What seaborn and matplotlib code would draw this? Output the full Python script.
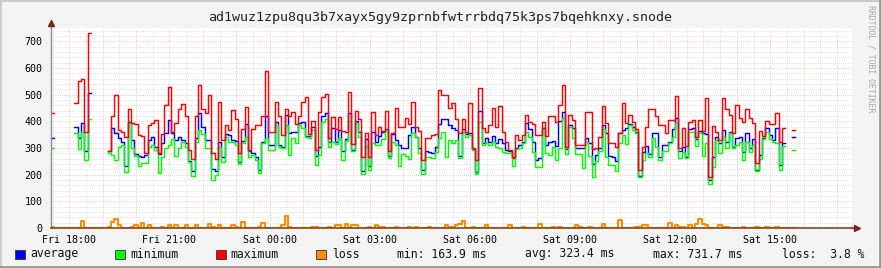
import numpy as np
import pandas as pd
import matplotlib
matplotlib.use("Agg")
import matplotlib.pyplot as plt
import seaborn as sns
from matplotlib.ticker import MultipleLocator, FuncFormatter
from matplotlib.patches import Rectangle
from matplotlib.lines import Line2D

nan = np.nan

TITLE = "ad1wuz1zpu8qu3b7xayx5gy9zprnbfwtrrbdq75k3ps7bqehknxy.snode"
START_HOUR = 17.45      # Fri 17:27 (hours since Fri 00:00)
STEP_HOURS = 0.1        # 6 minute steps
SPAN_HOURS = 24.0

maximum = [
    430, nan, nan, nan, nan, nan, nan, 467, 552, 558,
    361, 731, nan, nan, nan, nan, nan, 290, 421, 500,
    368, 360, 340, 445, 395, 390, 350, 345, 282, 386,
    395, 405, 282, 352, 461, 530, 360, 392, 445, 464,
    420, 292, 257, 420, 536, 445, 430, 500, 280, 257,
    471, 330, 386, 367, 442, 407, 280, 370, 452, 292,
    370, 386, 386, 420, 589, 360, 360, 471, 420, 349,
    445, 420, 436, 390, 420, 474, 490, 352, 402, 292,
    434, 490, 501, 336, 415, 370, 415, 365, 360, 511,
    315, 440, 407, 267, 355, 267, 436, 349, 377, 365,
    440, 289, 355, 449, 377, 377, 411, 390, 474, 380,
    365, 255, 336, 336, 349, 352, 517, 499, 499, 449,
    467, 407, 355, 407, 360, 467, 300, 255, 524, 374,
    361, 386, 449, 377, 457, 361, 324, 292, 265, 349,
    330, 349, 424, 399, 389, 349, 349, 399, 345, 420,
    420, 399, 461, 536, 305, 424, 405, 311, 311, 311,
    434, 434, 295, 300, 342, 457, 395, 317, 317, 305,
    357, 467, 392, 424, 399, 370, 217, 305, 380, 445,
    445, 420, 386, 386, 357, 405, 405, 495, 300, 376,
    307, 399, 405, 340, 405, 362, 486, 192, 382, 361,
    330, 486, 445, 424, 355, 461, 411, 399, 445, 411,
    392, 244, 365, 345, 402, 390, 390, 430, 324, 374,
    nan, nan, 367,
]

average = [
    336, nan, nan, nan, nan, nan, nan, 380, 336, 392,
    289, 505, nan, nan, nan, nan, nan, 288, 374, 355,
    336, 324, 232, 399, 330, 277, 270, 265, 272, 330,
    342, 305, 278, 320, 355, 405, 355, 330, 342, 330,
    317, 252, 215, 336, 430, 380, 330, 330, 220, 215,
    321, 265, 352, 349, 330, 326, 246, 326, 389, 288,
    282, 267, 217, 324, 420, 311, 311, 399, 311, 305,
    424, 357, 361, 361, 395, 396, 345, 345, 380, 270,
    305, 420, 432, 324, 374, 324, 367, 290, 332, 430,
    292, 402, 361, 214, 332, 232, 361, 324, 345, 360,
    370, 270, 352, 330, 311, 299, 299, 349, 377, 342,
    299, 217, 290, 286, 280, 305, 390, 407, 407, 386,
    374, 367, 270, 370, 352, 355, 296, 209, 440, 317,
    336, 324, 345, 320, 332, 320, 292, 290, 262, 299,
    310, 324, 392, 370, 324, 255, 261, 374, 310, 324,
    326, 307, 400, 436, 295, 386, 374, 299, 299, 299,
    336, 320, 240, 275, 300, 386, 357, 270, 265, 252,
    355, 367, 374, 390, 380, 360, 195, 286, 307, 277,
    355, 355, 265, 311, 311, 324, 370, 411, 290, 305,
    265, 370, 374, 332, 365, 355, 352, 180, 265, 342,
    318, 367, 324, 361, 305, 336, 342, 286, 355, 299,
    332, 217, 274, 338, 374, 349, 330, 374, 236, 320,
    nan, nan, 340,
]

minimum = [
    299, nan, nan, nan, nan, nan, nan, 357, 295, 361,
    255, 407, nan, nan, nan, nan, nan, 280, 274, 255,
    305, 311, 211, 392, 299, 270, 232, 242, 245, 305,
    311, 292, 207, 267, 299, 311, 335, 270, 299, 324,
    305, 249, 195, 324, 367, 352, 299, 300, 180, 200,
    305, 249, 342, 324, 324, 311, 240, 317, 340, 265,
    274, 255, 205, 317, 336, 292, 292, 386, 305, 300,
    386, 274, 336, 317, 386, 374, 340, 338, 367, 236,
    274, 399, 407, 305, 321, 315, 336, 255, 326, 402,
    290, 395, 340, 201, 307, 217, 320, 310, 311, 332,
    367, 261, 324, 311, 232, 277, 270, 257, 357, 340,
    280, 201, 267, 267, 261, 286, 336, 360, 265, 330,
    317, 330, 262, 361, 342, 350, 292, 202, 399, 311,
    317, 311, 324, 305, 299, 286, 282, 280, 232, 295,
    300, 318, 361, 340, 286, 230, 227, 370, 280, 274,
    305, 255, 300, 411, 277, 380, 336, 277, 277, 224,
    324, 270, 190, 250, 290, 370, 267, 236, 236, 215,
    317, 349, 315, 386, 367, 355, 190, 255, 280, 265,
    336, 305, 255, 290, 290, 318, 340, 392, 261, 286,
    261, 361, 361, 307, 355, 270, 320, 164, 227, 330,
    280, 342, 299, 355, 299, 310, 324, 255, 324, 286,
    311, 215, 257, 332, 361, 332, 324, 317, 217, 307,
    nan, nan, 292,
]

loss = [
    3, 0, 0, 0, 0, 0, 0, 0, 0, 26,
    0, 0, 0, 0, 0, 0, 0, 3, 21, 34,
    10, 0, 0, 0, 5, 10, 0, 20, 0, 10,
    0, 0, 0, 3, 0, 10, 0, 10, 0, 0,
    10, 0, 0, 10, 0, 0, 0, 14, 5, 0,
    10, 0, 0, 0, 10, 3, 0, 21, 0, 0,
    0, 0, 3, 20, 0, 0, 0, 0, 0, 10,
    45, 3, 0, 0, 0, 0, 0, 0, 3, 3,
    0, 0, 0, 5, 0, 10, 10, 0, 14, 0,
    10, 10, 0, 0, 0, 3, 0, 10, 3, 3,
    0, 0, 0, 3, 0, 0, 0, 5, 0, 3,
    0, 0, 0, 3, 0, 0, 0, 0, 10, 5,
    5, 10, 16, 26, 0, 0, 3, 0, 0, 0,
    10, 0, 0, 0, 0, 0, 0, 10, 0, 0,
    0, 5, 0, 0, 0, 0, 14, 0, 0, 0,
    3, 0, 5, 0, 0, 0, 0, 10, 3, 0,
    0, 5, 0, 0, 0, 14, 0, 0, 0, 0,
    30, 0, 0, 0, 0, 5, 3, 10, 10, 0,
    0, 0, 0, 0, 0, 20, 0, 10, 5, 5,
    0, 10, 0, 16, 34, 16, 10, 0, 0, 0,
    10, 3, 3, 0, 0, 0, 0, 5, 0, 0,
    0, 3, 0, 0, 3, 0, 0, 5, 0, 0,
    0, 0, 0,
]

series_names = ["average", "minimum", "maximum", "loss"]
series_colors = ["#0000FF", "#00FF00", "#FF0000", "#FF8C00"]
stats_labels = ["min: 163.9 ms", "avg: 323.4 ms", "max: 731.7 ms", "loss:  3.8 %"]
y_max = 750


def step_frame(values, name):
    rows = []
    run = 0
    prev = False
    for i, v in enumerate(values):
        if v is None or np.isnan(v):
            if prev:
                run += 1
            prev = False
            continue
        t0 = START_HOUR + i * STEP_HOURS
        rows.append((name, run, t0, v))
        rows.append((name, run, t0 + STEP_HOURS, v))
        prev = True
    return pd.DataFrame(rows, columns=["series", "run", "hour", "value"])


plt.rcParams["font.family"] = ["DejaVu Sans Mono"]
W, H = 881, 268
fig = plt.figure(figsize=(W / 100, H / 100), dpi=100, facecolor="#F3F3F3")

ax = fig.add_axes([51 / W, 40 / H, 801 / W, 200 / H])
ax.set_facecolor("white")
ax.set_xlim(START_HOUR, START_HOUR + SPAN_HOURS)
ax.set_ylim(0, y_max)

# grid
ax.xaxis.set_major_locator(MultipleLocator(1))
ax.xaxis.set_minor_locator(MultipleLocator(0.5))
ax.yaxis.set_major_locator(MultipleLocator(100))
ax.yaxis.set_minor_locator(MultipleLocator(20))


def fmt_time(h, pos):
    hr = int(round(h))
    if hr % 3 != 0:
        return ""
    day = "Fri" if hr < 24 else "Sat"
    return f"{day} {hr % 24:02d}:00"


ax.xaxis.set_major_formatter(FuncFormatter(fmt_time))
ax.grid(which="minor", color="#D6D6D6", linestyle=(0, (1, 1.5)), linewidth=0.6)
ax.grid(which="major", color="#F7B4B4", linestyle=(0, (1, 1.5)), linewidth=0.6)
ax.set_axisbelow(True)

ax.tick_params(which="both", length=0)
ax.tick_params(axis="y", pad=6, labelsize=7.2)
ax.tick_params(axis="x", pad=5, labelsize=7.2)

# data
values_by_series = [average, minimum, maximum, loss]
for name, vals, col in zip(series_names, values_by_series, series_colors):
    df = step_frame(vals, name)
    sns.lineplot(data=df, x="hour", y="value", units="run", estimator=None,
                 sort=False, color=col, linewidth=1.5 if name == "loss" else 1.05,
                 ax=ax, legend=False)
ax.set_xlabel("")
ax.set_ylabel("")

for s in ["top", "right"]:
    ax.spines[s].set_visible(False)
ax.spines["left"].set_color("#8A8A8A")
ax.spines["left"].set_linewidth(1.0)
ax.spines["bottom"].set_color("#8B4513")
ax.spines["bottom"].set_linewidth(1.2)
ax.spines["bottom"].set_zorder(3)

# axis extensions with arrows
ax.plot([0, 0], [1.0, 1.02], transform=ax.transAxes, color="#8A8A8A", lw=1.0,
        clip_on=False, zorder=5)
ax.plot([0], [1.025], transform=ax.transAxes, marker="^", markersize=5,
        color="#7F1F1F", clip_on=False, zorder=5)
ax.plot([1.0, 1.004], [0, 0], transform=ax.transAxes, color="#8B4513", lw=1.2,
        clip_on=False, zorder=5)
ax.plot([1.006], [0], transform=ax.transAxes, marker=">", markersize=5,
        color="#7F1F1F", clip_on=False, zorder=5)

# title
fig.text(0.5, 1 - 18 / H, TITLE, ha="center", va="center", fontsize=9.6, color="#222222")

# vertical credit
fig.text(871.5 / W, 1 - 5 / H, "RRDTOOL / TOBI OETIKER", rotation=270, ha="center",
         va="top", fontsize=5.9, color="#A8A8A8")

# legend
legend_y = 1 - 254 / H
square_x = [15, 115, 216, 316]
label_x = [30, 130, 230, 332]
for name, col, sx, lx in zip(series_names, series_colors, square_x, label_x):
    fig.patches.append(Rectangle((sx / W, 1 - 259 / H), 10 / W, 9 / H,
                                 transform=fig.transFigure, facecolor=col,
                                 edgecolor="#333333", linewidth=0.6))
    fig.text(lx / W, legend_y, name, ha="left", va="center", fontsize=8.3, color="#111111")
for txt, sx in zip(stats_labels, [397, 525, 653, 782]):
    fig.text(sx / W, legend_y, txt, ha="left", va="center", fontsize=8.3, color="#111111")

# shaded border
fig.add_artist(Line2D([0, 1], [1 - 1 / H, 1 - 1 / H], transform=fig.transFigure, color="#CBCBCB", lw=1.5))
fig.add_artist(Line2D([1 / W, 1 / W], [0, 1], transform=fig.transFigure, color="#CBCBCB", lw=1.5))
fig.add_artist(Line2D([0, 1], [1.2 / H, 1.2 / H], transform=fig.transFigure, color="#999999", lw=2))
fig.add_artist(Line2D([1 - 1.2 / W, 1 - 1.2 / W], [0, 1], transform=fig.transFigure, color="#999999", lw=2))

fig.savefig("out.png", dpi=100, facecolor=fig.get_facecolor())
